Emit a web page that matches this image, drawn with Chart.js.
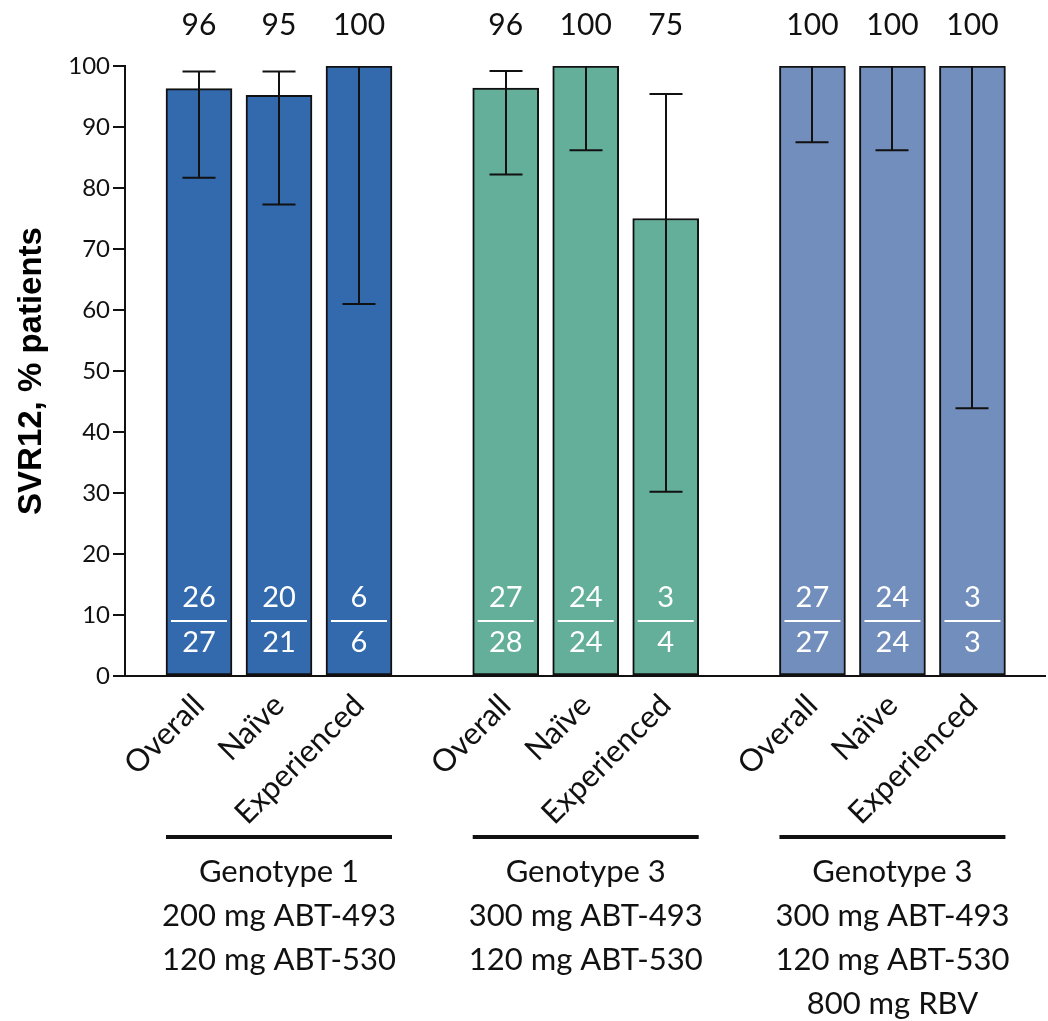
<!DOCTYPE html>
<html><head><meta charset="utf-8">
<script src="https://cdn.jsdelivr.net/npm/chart.js@4.4.1/dist/chart.umd.min.js"></script>
<style>html,body{margin:0;padding:0;background:#fff}</style>
</head><body>
<canvas id="c" width="1048" height="1021"></canvas>
<script>
// ---- data ----
const categories = ['Overall','Naïve','Experienced','Overall','Naïve','Experienced','Overall','Naïve','Experienced'];
const svr = [96.3, 95.2, 100, 96.4, 100, 75, 100, 100, 100];
const svrLabels = ['96','95','100','96','100','75','100','100','100'];
const ciLow = [81.7, 77.3, 61.0, 82.2, 86.2, 30.2, 87.5, 86.2, 43.9];
const ciHigh = [99.1, 99.1, 100, 99.2, 100, 95.4, 100, 100, 100];
const responders = [26, 20, 6, 27, 24, 3, 27, 24, 3];
const totals = [27, 21, 6, 28, 24, 4, 27, 24, 3];
const groupLabels = [
  ['Genotype 1','200 mg ABT-493','120 mg ABT-530'],
  ['Genotype 3','300 mg ABT-493','120 mg ABT-530'],
  ['Genotype 3','300 mg ABT-493','120 mg ABT-530','800 mg RBV']
];
const yTicksStep = 10;

// ---- layout / style ----
const groupColors = ['#3369AD', '#63AF9A', '#718EBC'];
const groupStep = 3.834;
const barW = 66;
const xPos = categories.map((_, i) => Math.floor(i / 3) * groupStep + (i % 3));
const ink = '#111';
const txtFont = 'Lato, "Open Sans", sans-serif';

const overlay = {
  id: 'overlay',
  afterDatasetsDraw(chart) {
    const ctx = chart.ctx, xs = chart.scales.x, ys = chart.scales.y;
    ctx.save();
    // error bars
    ctx.strokeStyle = ink; ctx.lineWidth = 2;
    xPos.forEach((v, i) => {
      const x = Math.round(xs.getPixelForValue(v)) ;
      const yl = ys.getPixelForValue(ciLow[i]), yh = ys.getPixelForValue(ciHigh[i]);
      ctx.beginPath();
      ctx.moveTo(x, yh); ctx.lineTo(x, yl);
      ctx.moveTo(x - 16.5, yl); ctx.lineTo(x + 16.5, yl);
      if (ciHigh[i] < 100) { ctx.moveTo(x - 16.5, yh); ctx.lineTo(x + 16.5, yh); }
      ctx.stroke();
    });
    // fractions
    const lineY = ys.getPixelForValue(9);
    ctx.fillStyle = '#fff'; ctx.strokeStyle = '#fff'; ctx.lineWidth = 2;
    ctx.font = '29px ' + txtFont; ctx.textAlign = 'center'; ctx.textBaseline = 'middle';
    xPos.forEach((v, i) => {
      const x = xs.getPixelForValue(v);
      ctx.beginPath(); ctx.moveTo(x - 28, lineY); ctx.lineTo(x + 28, lineY); ctx.stroke();
      ctx.fillText(String(responders[i]), x, lineY - 23);
      ctx.fillText(String(totals[i]), x, lineY + 22);
    });
    // top labels
    ctx.fillStyle = ink; ctx.font = '30px ' + txtFont;
    xPos.forEach((v, i) => {
      ctx.fillText(svrLabels[i], xs.getPixelForValue(v), 25);
    });
    ctx.restore();
  },
  afterDraw(chart) {
    const ctx = chart.ctx, xs = chart.scales.x;
    ctx.save();
    groupLabels.forEach((lines, g) => {
      const x0 = xs.getPixelForValue(xPos[g * 3]) - barW / 2;
      const x1 = xs.getPixelForValue(xPos[g * 3 + 2]) + barW / 2;
      const xc = xs.getPixelForValue(xPos[g * 3 + 1]);
      ctx.strokeStyle = ink; ctx.lineWidth = 4;
      ctx.beginPath(); ctx.moveTo(x0, 837); ctx.lineTo(x1, 837); ctx.stroke();
      ctx.fillStyle = ink; ctx.font = '31px ' + txtFont;
      ctx.textAlign = 'center'; ctx.textBaseline = 'middle';
      lines.forEach((t, k) => ctx.fillText(t, xc, 872 + k * 44));
    });
    ctx.restore();
  }
};

new Chart(document.getElementById('c'), {
  type: 'bar',
  data: {
    datasets: [{
      data: xPos.map((x, i) => ({ x, y: svr[i] })),
      backgroundColor: xPos.map((_, i) => groupColors[Math.floor(i / 3)]),
      borderColor: ink,
      borderWidth: 2,
      borderSkipped: false,
      barThickness: barW
    }]
  },
  options: {
    responsive: false,
    animation: false,
    devicePixelRatio: 1,
    layout: { padding: { top: 66, right: 3, left: 0, bottom: 0 } },
    plugins: { legend: { display: false }, tooltip: { enabled: false } },
    scales: {
      x: {
        type: 'linear',
        offset: false,
        min: -0.925, max: 10.575,
        grid: { display: false, drawTicks: false, offset: false },
        border: { display: true, color: ink, width: 2 },
        afterBuildTicks: s => { s.ticks = xPos.map(v => ({ value: v })); },
        afterFit: s => { s.height = 345; },
        ticks: {
          autoSkip: false, minRotation: 45, maxRotation: 45,
          padding: 11,
          color: ink,
          font: { family: txtFont, size: 31 },
          callback: (v, i) => categories[i]
        }
      },
      y: {
        min: 0, max: 100,
        afterFit: s => { s.width = 125; },
        grid: { drawOnChartArea: false, drawTicks: true, tickLength: 12, color: ink, lineWidth: 2 },
        border: { display: true, color: ink, width: 2 },
        ticks: { stepSize: yTicksStep, padding: 3, color: ink, font: { family: txtFont, size: 24 } },
        title: {
          display: true, text: 'SVR12, % patients', color: '#000',
          font: { family: '"Liberation Sans", Arial, sans-serif', weight: 'bold', size: 33 },
          padding: { top: 12, bottom: 0 }
        }
      }
    }
  },
  plugins: [overlay]
});
</script>
</body></html>
